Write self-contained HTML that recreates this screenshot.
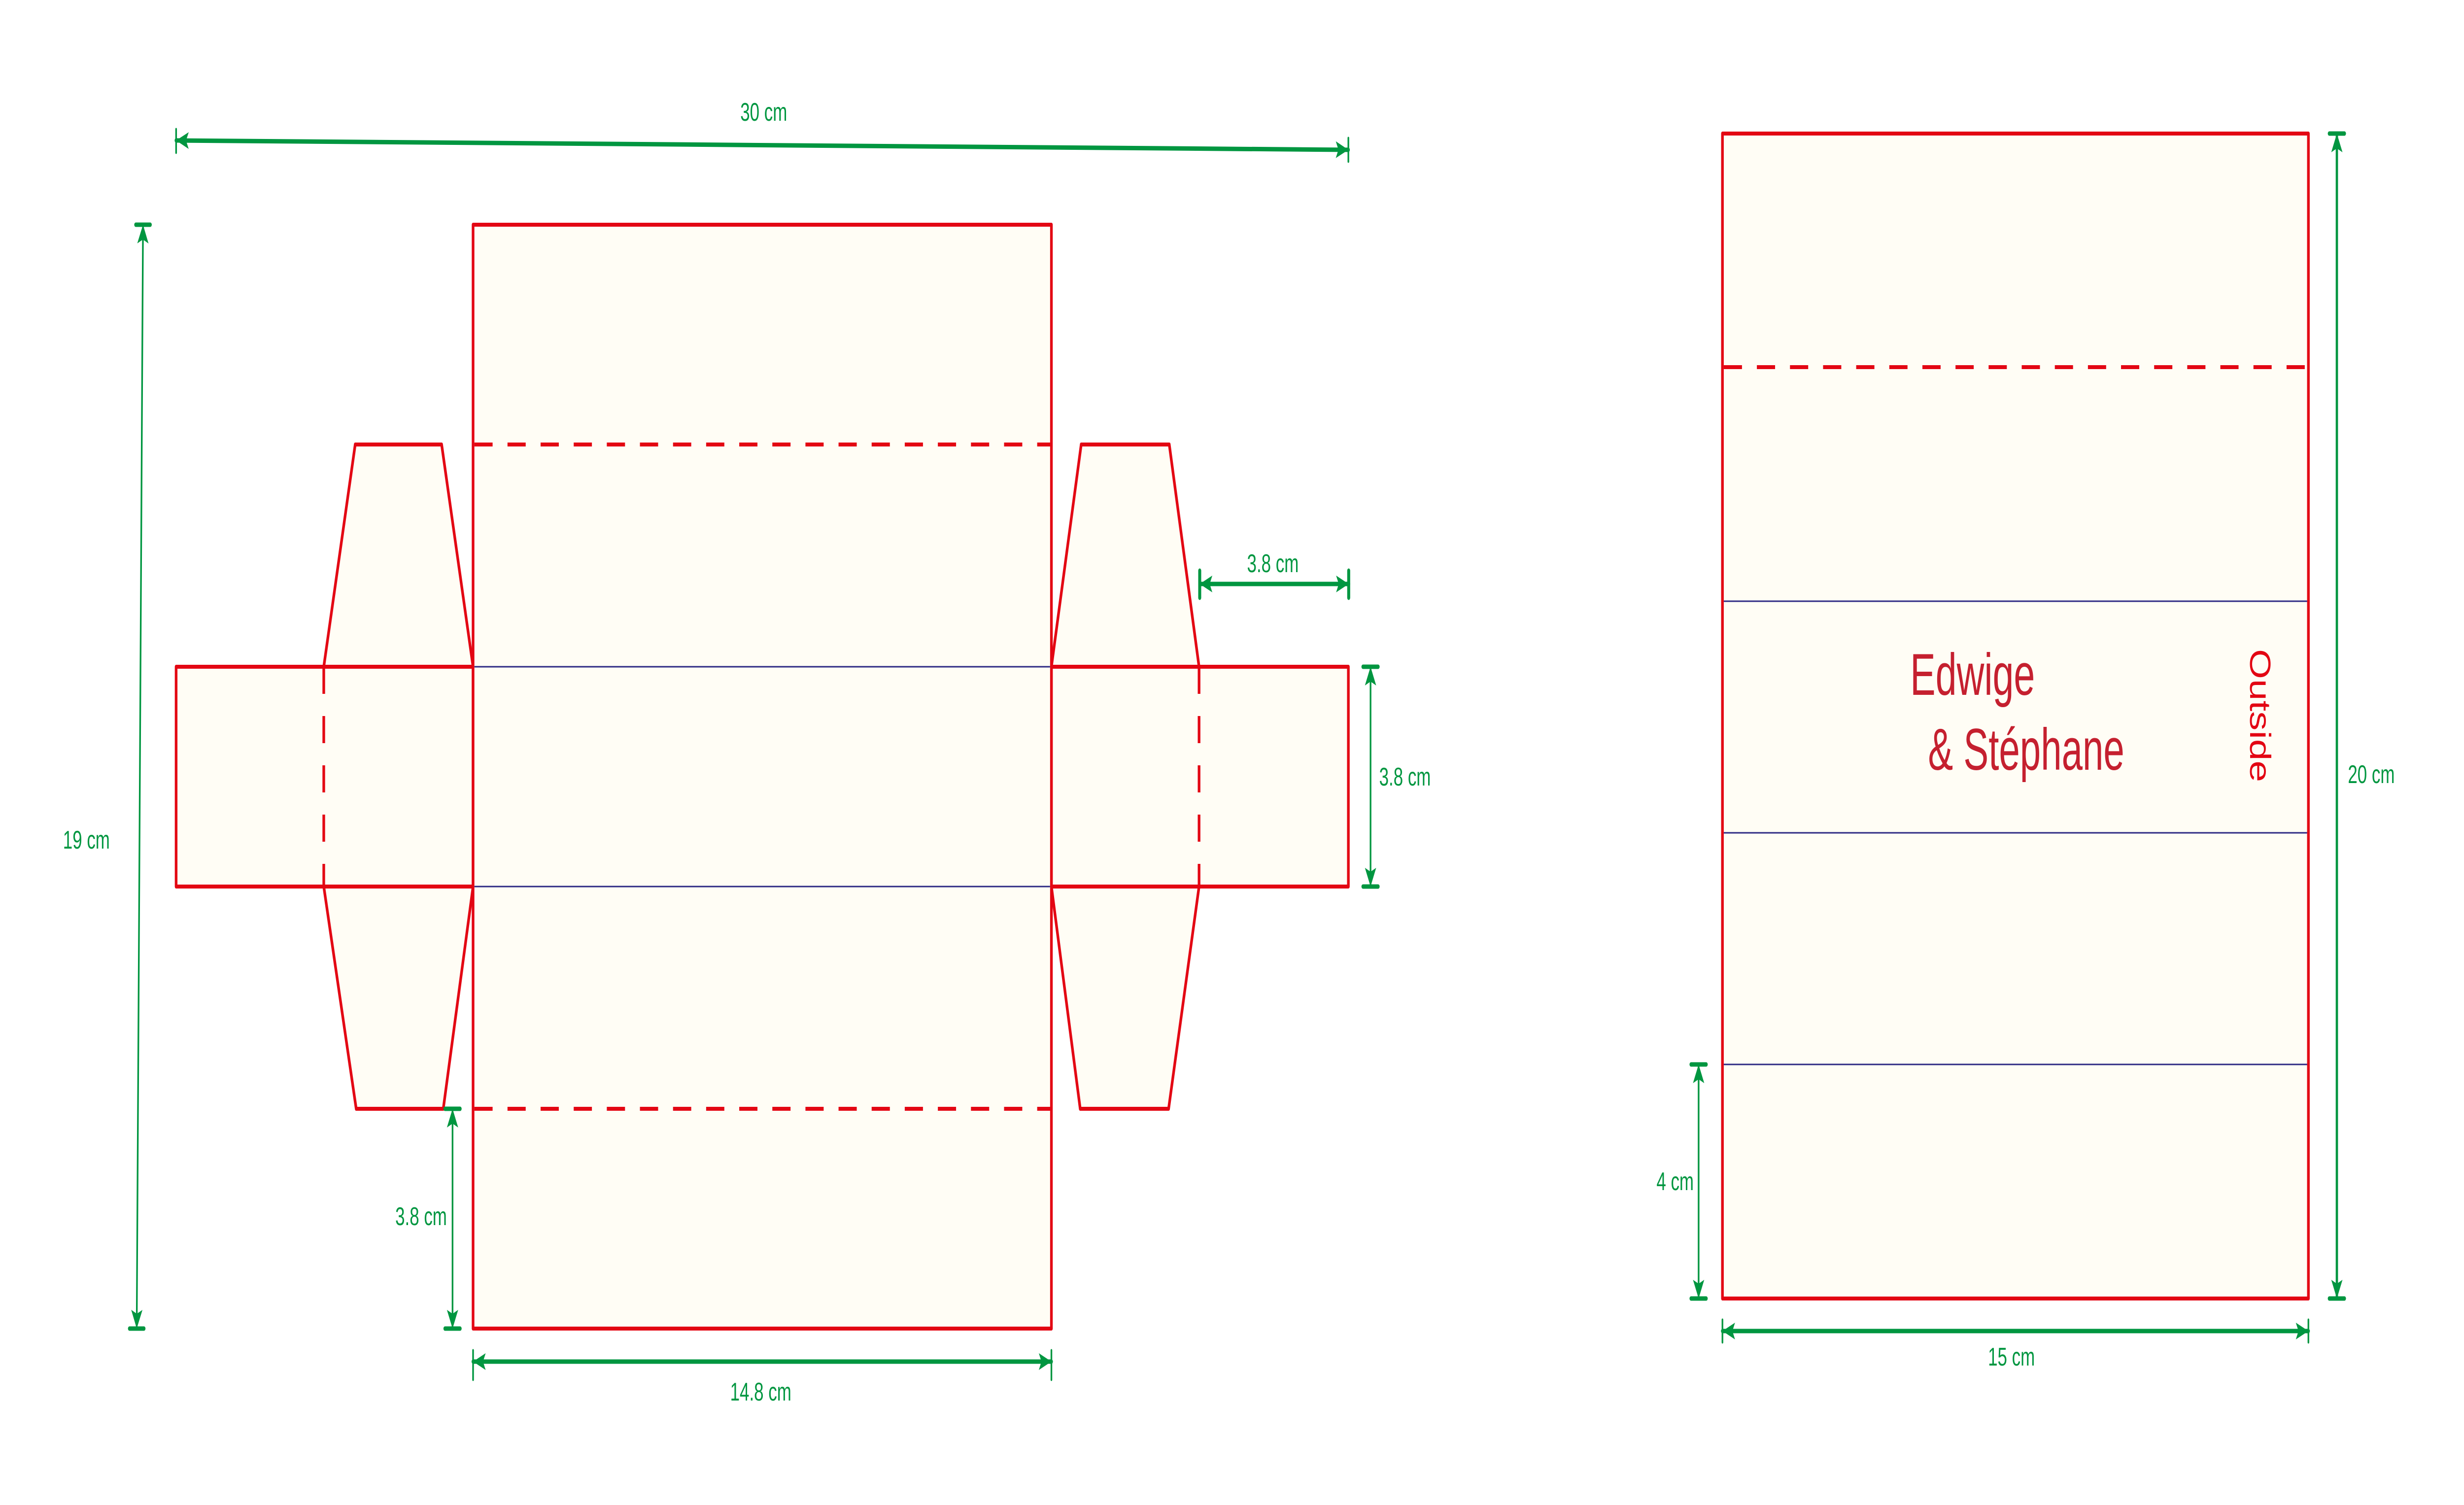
<!DOCTYPE html>
<html><head><meta charset="utf-8"><style>html,body{margin:0;padding:0;background:#fff;overflow:hidden}svg{display:block;width:100vw;height:100vh}</style></head>
<body>
<svg viewBox="0 0 7443 3054" preserveAspectRatio="none" xmlns="http://www.w3.org/2000/svg">
<defs>
<marker id="a" markerUnits="userSpaceOnUse" markerWidth="40" markerHeight="40" viewBox="-40 -20 40 40" refX="0" refY="0" orient="auto-start-reverse">
<path d="M0,0 L-38,-17 L-30,0 L-38,17 Z" fill="#009640"/>
</marker>
</defs>
<g fill="#fffdf5" stroke="#e30613" stroke-width="8" stroke-linejoin="round">
<polygon points="978,1353 1073,902 1334,902 1429,1353"/>
<polygon points="978,1799 1076,2250 1339,2250 1429,1799"/>
<polygon points="3176,1353 3266,902 3532,902 3622,1353"/>
<polygon points="3176,1799 3263,2250 3530,2250 3622,1799"/>
<rect x="532" y="1353" width="897" height="446"/>
<rect x="3176" y="1353" width="897" height="446"/>
<rect x="1429" y="456" width="1747" height="2240"/>
<rect x="5203" y="271" width="1770" height="2364"/>
</g>
<g stroke="#2e2a84" stroke-width="3">
<line x1="1433" y1="1353" x2="3172" y2="1353"/>
<line x1="1433" y1="1799" x2="3172" y2="1799"/>
<line x1="5207" y1="1220" x2="6969" y2="1220"/>
<line x1="5207" y1="1690" x2="6969" y2="1690"/>
<line x1="5207" y1="2160" x2="6969" y2="2160"/>
</g>
<g stroke="#fffdf5" stroke-width="6">
<line x1="978" y1="1358" x2="978" y2="1794"/>
<line x1="3622" y1="1358" x2="3622" y2="1794"/>
</g>
<g stroke="#e30613" stroke-width="8" fill="none" stroke-dasharray="55 45">
<line x1="978" y1="1353" x2="978" y2="1799"/>
<line x1="3622" y1="1353" x2="3622" y2="1799"/>
<line x1="1433" y1="902" x2="3176" y2="902"/>
<line x1="1433" y1="2250" x2="3176" y2="2250"/>
<line x1="5207" y1="745" x2="6973" y2="745"/>
</g>
<g stroke="#009640" stroke-width="9" fill="none" stroke-linecap="round">
<line x1="532" y1="285" x2="4073" y2="304" marker-start="url(#a)" marker-end="url(#a)"/>
<line x1="532" y1="262" x2="532" y2="310" stroke-width="5"/>
<line x1="4073" y1="280" x2="4073" y2="328" stroke-width="5"/>
<line x1="432" y1="456" x2="413" y2="2696" marker-start="url(#a)" marker-end="url(#a)" stroke-width="5"/>
<line x1="410" y1="456" x2="454" y2="456"/>
<line x1="391" y1="2696" x2="435" y2="2696"/>
<line x1="3624" y1="1185" x2="4074" y2="1185" marker-start="url(#a)" marker-end="url(#a)"/>
<line x1="3624" y1="1158" x2="3624" y2="1213"/>
<line x1="4074" y1="1158" x2="4074" y2="1213"/>
<line x1="4140" y1="1353" x2="4140" y2="1799" marker-start="url(#a)" marker-end="url(#a)" stroke-width="5"/>
<line x1="4117" y1="1353" x2="4163" y2="1353"/>
<line x1="4117" y1="1799" x2="4163" y2="1799"/>
<line x1="1367" y1="2250" x2="1367" y2="2696" marker-start="url(#a)" marker-end="url(#a)" stroke-width="5"/>
<line x1="1344" y1="2250" x2="1390" y2="2250"/>
<line x1="1344" y1="2696" x2="1390" y2="2696"/>
<line x1="1429" y1="2763" x2="3176" y2="2763" marker-start="url(#a)" marker-end="url(#a)"/>
<line x1="1429" y1="2740" x2="1429" y2="2800" stroke-width="5"/>
<line x1="3176" y1="2740" x2="3176" y2="2800" stroke-width="5"/>
<line x1="7059" y1="271" x2="7059" y2="2635" marker-start="url(#a)" marker-end="url(#a)" stroke-width="7"/>
<line x1="7036" y1="271" x2="7082" y2="271"/>
<line x1="7036" y1="2635" x2="7082" y2="2635"/>
<line x1="5131" y1="2160" x2="5131" y2="2635" marker-start="url(#a)" marker-end="url(#a)" stroke-width="5"/>
<line x1="5108" y1="2160" x2="5154" y2="2160"/>
<line x1="5108" y1="2635" x2="5154" y2="2635"/>
<line x1="5203" y1="2701" x2="6973" y2="2701" marker-start="url(#a)" marker-end="url(#a)"/>
<line x1="5203" y1="2678" x2="5203" y2="2724" stroke-width="5"/>
<line x1="6973" y1="2678" x2="6973" y2="2724" stroke-width="5"/>
</g>
<g fill="#009640" font-family="Liberation Sans, sans-serif" font-size="52" text-anchor="middle">
<text x="2307" y="245">30 cm</text>
<text x="261" y="1722">19 cm</text>
<text x="3845" y="1161">3.8 cm</text>
<text x="4244" y="1594">3.8 cm</text>
<text x="1272" y="2486">3.8 cm</text>
<text x="2298" y="2842">14.8 cm</text>
<text x="7163" y="1589">20 cm</text>
<text x="5060" y="2415">4 cm</text>
<text x="6076" y="2771">15 cm</text>
</g>
<g fill="#c5202f" font-family="Liberation Sans, sans-serif" font-size="120">
<text x="5770" y="1410" textLength="377" lengthAdjust="spacingAndGlyphs">Edwige</text>
<text x="5824" y="1562" textLength="593" lengthAdjust="spacingAndGlyphs">&amp; Stéphane</text>
</g>
<text x="0" y="0" transform="translate(6797,1317) rotate(90)" fill="#e30613" font-family="Liberation Sans, sans-serif" font-size="88" textLength="270" lengthAdjust="spacingAndGlyphs">Outside</text>
</svg>
</body></html>
